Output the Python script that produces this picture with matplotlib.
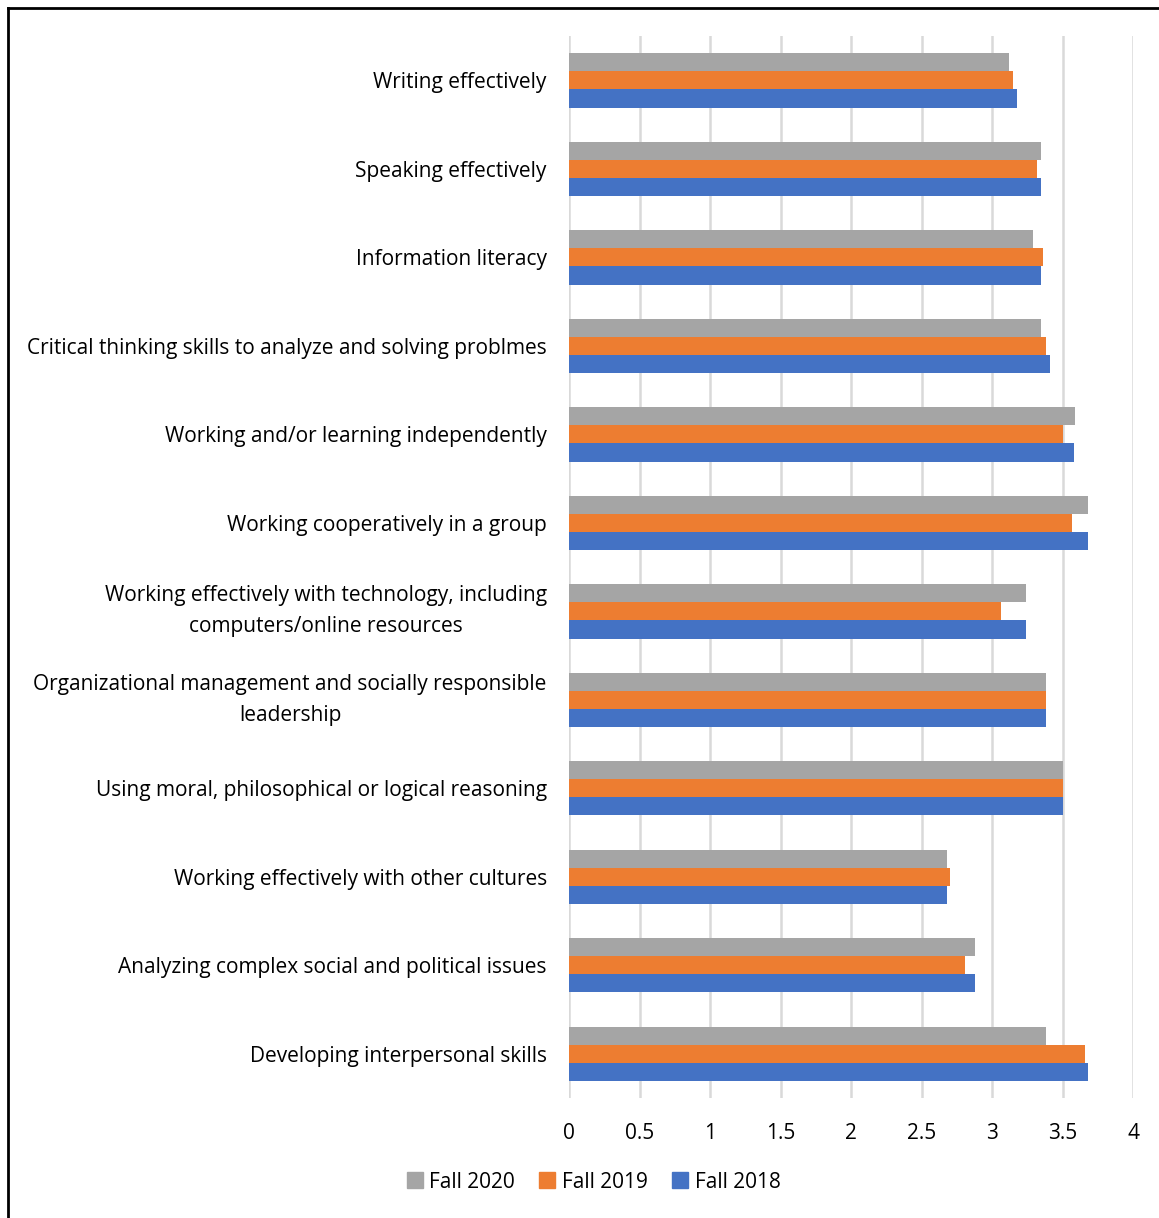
import numpy as np
import matplotlib.pyplot as plt
from matplotlib.lines import Line2D

# Survey skill ratings (top to bottom as shown)
skills = [
    'Writing effectively',
    'Speaking effectively',
    'Information literacy',
    'Critical thinking skills to analyze and solving problmes',
    'Working and/or learning independently',
    'Working cooperatively in a group',
    'Working effectively with technology, including\ncomputers/online resources',
    'Organizational management and socially responsible\nleadership',
    'Using moral, philosophical or logical reasoning',
    'Working effectively with other cultures',
    'Analyzing complex social and political issues',
    'Developing interpersonal skills',
]
fall_2020 = [3.12, 3.35, 3.29, 3.35, 3.59, 3.68, 3.24, 3.38, 3.50, 2.68, 2.88, 3.38]
fall_2019 = [3.15, 3.32, 3.36, 3.38, 3.50, 3.57, 3.06, 3.38, 3.50, 2.70, 2.81, 3.66]
fall_2018 = [3.18, 3.35, 3.35, 3.41, 3.58, 3.68, 3.24, 3.38, 3.50, 2.68, 2.88, 3.68]
series = ['Fall 2020', 'Fall 2019', 'Fall 2018']
colors = ['#A5A5A5', '#ED7D31', '#4472C4']

plt.rcParams['font.family'] = ['Open Sans', 'DejaVu Sans']

fig = plt.figure(figsize=(11.59, 12.18), dpi=100)
ax = fig.add_axes([0.491, 0.0985, 0.4866, 0.8719])

y = np.arange(len(skills))
h = 0.205
for k, (vals, lab, col) in enumerate(zip([fall_2020, fall_2019, fall_2018], series, colors)):
    ax.barh(y + (k - 1) * h, vals, height=h, color=col, label=lab, zorder=3)

ax.set_ylim(len(skills) - 0.5, -0.5)
ax.set_xlim(0, 4)
ax.set_xticks(np.arange(0, 4.01, 0.5))
ax.set_xticklabels(['0', '0.5', '1', '1.5', '2', '2.5', '3', '3.5', '4'], fontsize=15)
ax.set_yticks(y)
ax.set_yticklabels(skills, fontsize=15, multialignment='center', linespacing=1.6)
for t in ax.get_yticklabels():
    if '\n' in t.get_text():
        t.set_va('center')
ax.tick_params(axis='both', length=0)
ax.tick_params(axis='y', pad=16)
ax.tick_params(axis='x', pad=18)
ax.grid(axis='x', color='#D9D9D9', linewidth=1.8, zorder=0)
for s in ax.spines.values():
    s.set_visible(False)

handles = [Line2D([0], [0], marker='s', linestyle='', markersize=11,
                  markerfacecolor=c, markeredgecolor=c) for c in colors]
fig.legend(handles, series, loc='center', bbox_to_anchor=(593 / 1159, 1 - 1182 / 1218),
           ncol=3, frameon=False, fontsize=15, handletextpad=0.25, columnspacing=1.1,
           handlelength=0.9)

# border lines (top and left) as in the source image
fig.add_artist(Line2D([7.5 / 1159, 7.5 / 1159], [0, 1 - 7.5 / 1218], color='black', lw=2))
fig.add_artist(Line2D([7.5 / 1159, 1], [1 - 7.5 / 1218, 1 - 7.5 / 1218], color='black', lw=2))

fig.savefig('out.png', dpi=100, facecolor='white')
